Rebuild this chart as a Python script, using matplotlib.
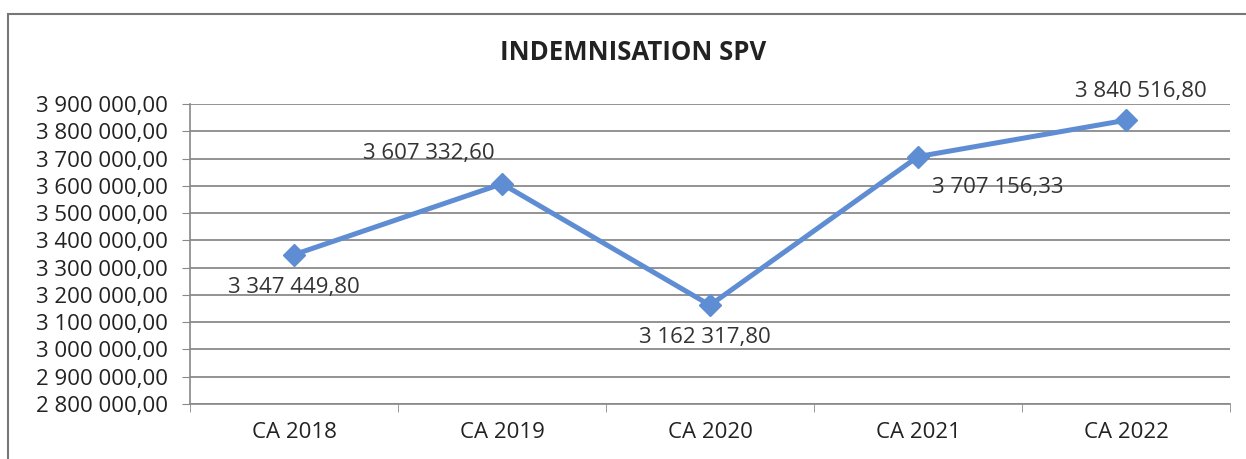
import matplotlib
matplotlib.use("Agg")
import matplotlib.pyplot as plt
from matplotlib.patches import Rectangle
from matplotlib.ticker import FuncFormatter, MultipleLocator, FixedLocator

categories = ["CA 2018", "CA 2019", "CA 2020", "CA 2021", "CA 2022"]
values = [3347449.80, 3607332.60, 3162317.80, 3707156.33, 3840516.80]
value_labels = ["3 347 449,80", "3 607 332,60", "3 162 317,80", "3 707 156,33", "3 840 516,80"]
title = "INDEMNISATION SPV"

# label offsets (pixels) relative to each point
offsets = [(0, -33), (-73, 30), (-5, -32), (80, -31), (15, 29)]

plt.rcParams['font.family'] = ['Open Sans', 'DejaVu Sans']

fig = plt.figure(figsize=(12.46, 4.59), dpi=100)
ax = fig.add_axes([190/1246, 1-404/459, 1040/1246, 300/459])

line_color = "#5F8DD3"
x = list(range(len(categories)))
ax.plot(x, values, color=line_color, lw=3.6, marker="D", markersize=11, zorder=3)

for xi, v, lab, off in zip(x, values, value_labels, offsets):
    ax.annotate(lab, (xi, v), xytext=off, textcoords="offset pixels",
                ha="center", va="center", fontsize=16, color="#333333", zorder=4)

ax.set_xlim(-0.5, 4.5)
ax.set_ylim(2800000, 3900000)
ax.yaxis.set_major_locator(MultipleLocator(100000))
ax.yaxis.set_major_formatter(FuncFormatter(lambda v, p: f"{v:,.2f}".replace(",", " ").replace(".", ",")))
ax.grid(axis="y", color="#808080", lw=1.2)
ax.set_axisbelow(True)

ax.set_xticks(x)
ax.set_xticklabels(categories)
ax.xaxis.set_minor_locator(FixedLocator([-0.5, 0.5, 1.5, 2.5, 3.5, 4.5]))
ax.tick_params(axis="x", which="major", length=0, pad=13, labelsize=16, labelcolor="#222222")
ax.tick_params(axis="x", which="minor", length=6, color="#888888", direction="out")
ax.tick_params(axis="y", length=6, color="#888888", labelsize=16, labelcolor="#222222", pad=10)

for s in ["top", "right"]:
    ax.spines[s].set_visible(False)
for s in ["left", "bottom"]:
    ax.spines[s].set_color("#888888")
    ax.spines[s].set_linewidth(1.2)

fig.text(633/1246, 1-52/459, title, ha="center", va="center", fontsize=18.5,
         fontweight="bold", color="#222222")

fig.patches.append(Rectangle((8/1246, -0.1), 1.2, 1-14/459 + 0.1, transform=fig.transFigure,
                             fill=False, edgecolor="#777777", lw=1.5))

fig.savefig("out.png", dpi=100)
